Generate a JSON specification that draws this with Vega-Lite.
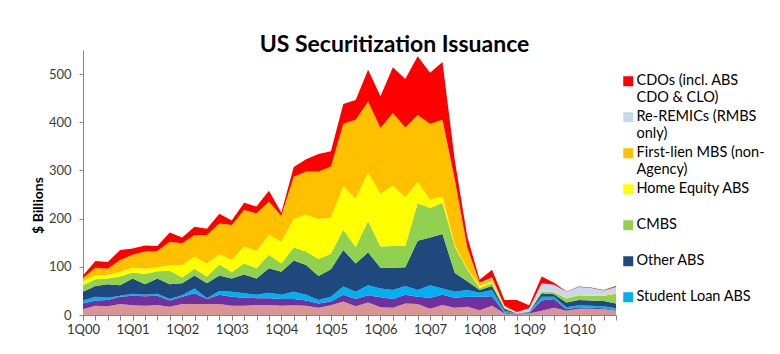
{
  "$schema": "https://vega.github.io/schema/vega-lite/v6.json",
  "width": 533,
  "height": 265,
  "autosize": {"type": "none"},
  "padding": {"left": 83, "top": 50, "right": 164, "bottom": 39},
  "background": "white",
  "title": {
    "text": "US Securitization Issuance",
    "font": "Lato",
    "fontSize": 23,
    "fontWeight": "bold",
    "color": "#000000",
    "anchor": "middle",
    "frame": "group",
    "baseline": "alphabetic",
    "offset": 0,
    "dx": 45,
    "dy": 25
  },
  "config": {"view": {"stroke": null}},
  "data": {
    "values": [
      {"q":"1Q00","s":"s1","v":12},{"q":"1Q00","s":"s2","v":12},{"q":"1Q00","s":"s3","v":6},{"q":"1Q00","s":"s4","v":18},{"q":"1Q00","s":"s5","v":14},{"q":"1Q00","s":"s6","v":8},{"q":"1Q00","s":"s7","v":7},{"q":"1Q00","s":"s8","v":0},{"q":"1Q00","s":"s9","v":5},
      {"q":"2Q00","s":"s1","v":19},{"q":"2Q00","s":"s2","v":11},{"q":"2Q00","s":"s3","v":8},{"q":"2Q00","s":"s4","v":22},{"q":"2Q00","s":"s5","v":14},{"q":"2Q00","s":"s6","v":8},{"q":"2Q00","s":"s7","v":16},{"q":"2Q00","s":"s8","v":0},{"q":"2Q00","s":"s9","v":14},
      {"q":"3Q00","s":"s1","v":18},{"q":"3Q00","s":"s2","v":13},{"q":"3Q00","s":"s3","v":5},{"q":"3Q00","s":"s4","v":28},{"q":"3Q00","s":"s5","v":12},{"q":"3Q00","s":"s6","v":7},{"q":"3Q00","s":"s7","v":13},{"q":"3Q00","s":"s8","v":0},{"q":"3Q00","s":"s9","v":14},
      {"q":"4Q00","s":"s1","v":23},{"q":"4Q00","s":"s2","v":15},{"q":"4Q00","s":"s3","v":2},{"q":"4Q00","s":"s4","v":22},{"q":"4Q00","s":"s5","v":18},{"q":"4Q00","s":"s6","v":10},{"q":"4Q00","s":"s7","v":24},{"q":"4Q00","s":"s8","v":0},{"q":"4Q00","s":"s9","v":21},
      {"q":"1Q01","s":"s1","v":20},{"q":"1Q01","s":"s2","v":20},{"q":"1Q01","s":"s3","v":4},{"q":"1Q01","s":"s4","v":32},{"q":"1Q01","s":"s5","v":12},{"q":"1Q01","s":"s6","v":10},{"q":"1Q01","s":"s7","v":27},{"q":"1Q01","s":"s8","v":0},{"q":"1Q01","s":"s9","v":13},
      {"q":"2Q01","s":"s1","v":19},{"q":"2Q01","s":"s2","v":20},{"q":"2Q01","s":"s3","v":3},{"q":"2Q01","s":"s4","v":22},{"q":"2Q01","s":"s5","v":21},{"q":"2Q01","s":"s6","v":11},{"q":"2Q01","s":"s7","v":36},{"q":"2Q01","s":"s8","v":0},{"q":"2Q01","s":"s9","v":12},
      {"q":"3Q01","s":"s1","v":21},{"q":"3Q01","s":"s2","v":19},{"q":"3Q01","s":"s3","v":4},{"q":"3Q01","s":"s4","v":32},{"q":"3Q01","s":"s5","v":15},{"q":"3Q01","s":"s6","v":8},{"q":"3Q01","s":"s7","v":34},{"q":"3Q01","s":"s8","v":0},{"q":"3Q01","s":"s9","v":10},
      {"q":"4Q01","s":"s1","v":17},{"q":"4Q01","s":"s2","v":13},{"q":"4Q01","s":"s3","v":3},{"q":"4Q01","s":"s4","v":31},{"q":"4Q01","s":"s5","v":28},{"q":"4Q01","s":"s6","v":11},{"q":"4Q01","s":"s7","v":49},{"q":"4Q01","s":"s8","v":0},{"q":"4Q01","s":"s9","v":19},
      {"q":"1Q02","s":"s1","v":23},{"q":"1Q02","s":"s2","v":15},{"q":"1Q02","s":"s3","v":3},{"q":"1Q02","s":"s4","v":25},{"q":"1Q02","s":"s5","v":12},{"q":"1Q02","s":"s6","v":26},{"q":"1Q02","s":"s7","v":45},{"q":"1Q02","s":"s8","v":0},{"q":"1Q02","s":"s9","v":12},
      {"q":"2Q02","s":"s1","v":23},{"q":"2Q02","s":"s2","v":22},{"q":"2Q02","s":"s3","v":10},{"q":"2Q02","s":"s4","v":27},{"q":"2Q02","s":"s5","v":14},{"q":"2Q02","s":"s6","v":25},{"q":"2Q02","s":"s7","v":45},{"q":"2Q02","s":"s8","v":0},{"q":"2Q02","s":"s9","v":17},
      {"q":"3Q02","s":"s1","v":23},{"q":"3Q02","s":"s2","v":10},{"q":"3Q02","s":"s3","v":2},{"q":"3Q02","s":"s4","v":31},{"q":"3Q02","s":"s5","v":14},{"q":"3Q02","s":"s6","v":27},{"q":"3Q02","s":"s7","v":59},{"q":"3Q02","s":"s8","v":0},{"q":"3Q02","s":"s9","v":13},
      {"q":"4Q02","s":"s1","v":23},{"q":"4Q02","s":"s2","v":19},{"q":"4Q02","s":"s3","v":8},{"q":"4Q02","s":"s4","v":32},{"q":"4Q02","s":"s5","v":23},{"q":"4Q02","s":"s6","v":21},{"q":"4Q02","s":"s7","v":64},{"q":"4Q02","s":"s8","v":0},{"q":"4Q02","s":"s9","v":20},
      {"q":"1Q03","s":"s1","v":19},{"q":"1Q03","s":"s2","v":19},{"q":"1Q03","s":"s3","v":10},{"q":"1Q03","s":"s4","v":28},{"q":"1Q03","s":"s5","v":13},{"q":"1Q03","s":"s6","v":25},{"q":"1Q03","s":"s7","v":73},{"q":"1Q03","s":"s8","v":0},{"q":"1Q03","s":"s9","v":9},
      {"q":"2Q03","s":"s1","v":19},{"q":"2Q03","s":"s2","v":17},{"q":"2Q03","s":"s3","v":9},{"q":"2Q03","s":"s4","v":39},{"q":"2Q03","s":"s5","v":23},{"q":"2Q03","s":"s6","v":35},{"q":"2Q03","s":"s7","v":76},{"q":"2Q03","s":"s8","v":0},{"q":"2Q03","s":"s9","v":15},
      {"q":"3Q03","s":"s1","v":21},{"q":"3Q03","s":"s2","v":14},{"q":"3Q03","s":"s3","v":7},{"q":"3Q03","s":"s4","v":34},{"q":"3Q03","s":"s5","v":21},{"q":"3Q03","s":"s6","v":36},{"q":"3Q03","s":"s7","v":78},{"q":"3Q03","s":"s8","v":0},{"q":"3Q03","s":"s9","v":14},
      {"q":"4Q03","s":"s1","v":21},{"q":"4Q03","s":"s2","v":14},{"q":"4Q03","s":"s3","v":11},{"q":"4Q03","s":"s4","v":51},{"q":"4Q03","s":"s5","v":28},{"q":"4Q03","s":"s6","v":41},{"q":"4Q03","s":"s7","v":69},{"q":"4Q03","s":"s8","v":0},{"q":"4Q03","s":"s9","v":23},
      {"q":"1Q04","s":"s1","v":19},{"q":"1Q04","s":"s2","v":14},{"q":"1Q04","s":"s3","v":9},{"q":"1Q04","s":"s4","v":48},{"q":"1Q04","s":"s5","v":17},{"q":"1Q04","s":"s6","v":45},{"q":"1Q04","s":"s7","v":54},{"q":"1Q04","s":"s8","v":0},{"q":"1Q04","s":"s9","v":6},
      {"q":"2Q04","s":"s1","v":20},{"q":"2Q04","s":"s2","v":13},{"q":"2Q04","s":"s3","v":15},{"q":"2Q04","s":"s4","v":65},{"q":"2Q04","s":"s5","v":27},{"q":"2Q04","s":"s6","v":59},{"q":"2Q04","s":"s7","v":88},{"q":"2Q04","s":"s8","v":0},{"q":"2Q04","s":"s9","v":20},
      {"q":"3Q04","s":"s1","v":19},{"q":"3Q04","s":"s2","v":11},{"q":"3Q04","s":"s3","v":12},{"q":"3Q04","s":"s4","v":62},{"q":"3Q04","s":"s5","v":28},{"q":"3Q04","s":"s6","v":76},{"q":"3Q04","s":"s7","v":90},{"q":"3Q04","s":"s8","v":0},{"q":"3Q04","s":"s9","v":25},
      {"q":"4Q04","s":"s1","v":15},{"q":"4Q04","s":"s2","v":9},{"q":"4Q04","s":"s3","v":7},{"q":"4Q04","s":"s4","v":50},{"q":"4Q04","s":"s5","v":35},{"q":"4Q04","s":"s6","v":83},{"q":"4Q04","s":"s7","v":99},{"q":"4Q04","s":"s8","v":0},{"q":"4Q04","s":"s9","v":36},
      {"q":"1Q05","s":"s1","v":20},{"q":"1Q05","s":"s2","v":8},{"q":"1Q05","s":"s3","v":10},{"q":"1Q05","s":"s4","v":57},{"q":"1Q05","s":"s5","v":32},{"q":"1Q05","s":"s6","v":75},{"q":"1Q05","s":"s7","v":106},{"q":"1Q05","s":"s8","v":0},{"q":"1Q05","s":"s9","v":32},
      {"q":"2Q05","s":"s1","v":28},{"q":"2Q05","s":"s2","v":14},{"q":"2Q05","s":"s3","v":17},{"q":"2Q05","s":"s4","v":76},{"q":"2Q05","s":"s5","v":42},{"q":"2Q05","s":"s6","v":90},{"q":"2Q05","s":"s7","v":130},{"q":"2Q05","s":"s8","v":0},{"q":"2Q05","s":"s9","v":41},
      {"q":"3Q05","s":"s1","v":18},{"q":"3Q05","s":"s2","v":15},{"q":"3Q05","s":"s3","v":15},{"q":"3Q05","s":"s4","v":59},{"q":"3Q05","s":"s5","v":34},{"q":"3Q05","s":"s6","v":101},{"q":"3Q05","s":"s7","v":163},{"q":"3Q05","s":"s8","v":0},{"q":"3Q05","s":"s9","v":41},
      {"q":"4Q05","s":"s1","v":26},{"q":"4Q05","s":"s2","v":15},{"q":"4Q05","s":"s3","v":21},{"q":"4Q05","s":"s4","v":68},{"q":"4Q05","s":"s5","v":65},{"q":"4Q05","s":"s6","v":101},{"q":"4Q05","s":"s7","v":147},{"q":"4Q05","s":"s8","v":0},{"q":"4Q05","s":"s9","v":66},
      {"q":"1Q06","s":"s1","v":16},{"q":"1Q06","s":"s2","v":21},{"q":"1Q06","s":"s3","v":18},{"q":"1Q06","s":"s4","v":43},{"q":"1Q06","s":"s5","v":44},{"q":"1Q06","s":"s6","v":109},{"q":"1Q06","s":"s7","v":137},{"q":"1Q06","s":"s8","v":0},{"q":"1Q06","s":"s9","v":66},
      {"q":"2Q06","s":"s1","v":15},{"q":"2Q06","s":"s2","v":18},{"q":"2Q06","s":"s3","v":19},{"q":"2Q06","s":"s4","v":46},{"q":"2Q06","s":"s5","v":45},{"q":"2Q06","s":"s6","v":126},{"q":"2Q06","s":"s7","v":150},{"q":"2Q06","s":"s8","v":0},{"q":"2Q06","s":"s9","v":95},
      {"q":"3Q06","s":"s1","v":24},{"q":"3Q06","s":"s2","v":18},{"q":"3Q06","s":"s3","v":18},{"q":"3Q06","s":"s4","v":39},{"q":"3Q06","s":"s5","v":44},{"q":"3Q06","s":"s6","v":101},{"q":"3Q06","s":"s7","v":145},{"q":"3Q06","s":"s8","v":0},{"q":"3Q06","s":"s9","v":101},
      {"q":"4Q06","s":"s1","v":23},{"q":"4Q06","s":"s2","v":15},{"q":"4Q06","s":"s3","v":14},{"q":"4Q06","s":"s4","v":102},{"q":"4Q06","s":"s5","v":78},{"q":"4Q06","s":"s6","v":44},{"q":"4Q06","s":"s7","v":139},{"q":"4Q06","s":"s8","v":0},{"q":"4Q06","s":"s9","v":122},
      {"q":"1Q07","s":"s1","v":13},{"q":"1Q07","s":"s2","v":23},{"q":"1Q07","s":"s3","v":26},{"q":"1Q07","s":"s4","v":99},{"q":"1Q07","s":"s5","v":61},{"q":"1Q07","s":"s6","v":17},{"q":"1Q07","s":"s7","v":158},{"q":"1Q07","s":"s8","v":0},{"q":"1Q07","s":"s9","v":106},
      {"q":"2Q07","s":"s1","v":21},{"q":"2Q07","s":"s2","v":21},{"q":"2Q07","s":"s3","v":13},{"q":"2Q07","s":"s4","v":113},{"q":"2Q07","s":"s5","v":65},{"q":"2Q07","s":"s6","v":13},{"q":"2Q07","s":"s7","v":159},{"q":"2Q07","s":"s8","v":0},{"q":"2Q07","s":"s9","v":120},
      {"q":"3Q07","s":"s1","v":15},{"q":"3Q07","s":"s2","v":21},{"q":"3Q07","s":"s3","v":12},{"q":"3Q07","s":"s4","v":39},{"q":"3Q07","s":"s5","v":55},{"q":"3Q07","s":"s6","v":3},{"q":"3Q07","s":"s7","v":135},{"q":"3Q07","s":"s8","v":0},{"q":"3Q07","s":"s9","v":40},
      {"q":"4Q07","s":"s1","v":17},{"q":"4Q07","s":"s2","v":21},{"q":"4Q07","s":"s3","v":14},{"q":"4Q07","s":"s4","v":18},{"q":"4Q07","s":"s5","v":25},{"q":"4Q07","s":"s6","v":2},{"q":"4Q07","s":"s7","v":43},{"q":"4Q07","s":"s8","v":0},{"q":"4Q07","s":"s9","v":23},
      {"q":"1Q08","s":"s1","v":10},{"q":"1Q08","s":"s2","v":28},{"q":"1Q08","s":"s3","v":8},{"q":"1Q08","s":"s4","v":6},{"q":"1Q08","s":"s5","v":4},{"q":"1Q08","s":"s6","v":4},{"q":"1Q08","s":"s7","v":6},{"q":"1Q08","s":"s8","v":1},{"q":"1Q08","s":"s9","v":6},
      {"q":"2Q08","s":"s1","v":19},{"q":"2Q08","s":"s2","v":20},{"q":"2Q08","s":"s3","v":13},{"q":"2Q08","s":"s4","v":8},{"q":"2Q08","s":"s5","v":6},{"q":"2Q08","s":"s6","v":4},{"q":"2Q08","s":"s7","v":6},{"q":"2Q08","s":"s8","v":2},{"q":"2Q08","s":"s9","v":16},
      {"q":"3Q08","s":"s1","v":3},{"q":"3Q08","s":"s2","v":2},{"q":"3Q08","s":"s3","v":4},{"q":"3Q08","s":"s4","v":4},{"q":"3Q08","s":"s5","v":2},{"q":"3Q08","s":"s6","v":1},{"q":"3Q08","s":"s7","v":1},{"q":"3Q08","s":"s8","v":2},{"q":"3Q08","s":"s9","v":12},
      {"q":"4Q08","s":"s1","v":1},{"q":"4Q08","s":"s2","v":1},{"q":"4Q08","s":"s3","v":1},{"q":"4Q08","s":"s4","v":0},{"q":"4Q08","s":"s5","v":0},{"q":"4Q08","s":"s6","v":0},{"q":"4Q08","s":"s7","v":0},{"q":"4Q08","s":"s8","v":3},{"q":"4Q08","s":"s9","v":25},
      {"q":"1Q09","s":"s1","v":3},{"q":"1Q09","s":"s2","v":1},{"q":"1Q09","s":"s3","v":2},{"q":"1Q09","s":"s4","v":1},{"q":"1Q09","s":"s5","v":1},{"q":"1Q09","s":"s6","v":0},{"q":"1Q09","s":"s7","v":0},{"q":"1Q09","s":"s8","v":6},{"q":"1Q09","s":"s9","v":6},
      {"q":"2Q09","s":"s1","v":9},{"q":"2Q09","s":"s2","v":21},{"q":"2Q09","s":"s3","v":8},{"q":"2Q09","s":"s4","v":7},{"q":"2Q09","s":"s5","v":4},{"q":"2Q09","s":"s6","v":1},{"q":"2Q09","s":"s7","v":1},{"q":"2Q09","s":"s8","v":15},{"q":"2Q09","s":"s9","v":14},
      {"q":"3Q09","s":"s1","v":15},{"q":"3Q09","s":"s2","v":18},{"q":"3Q09","s":"s3","v":5},{"q":"3Q09","s":"s4","v":5},{"q":"3Q09","s":"s5","v":4},{"q":"3Q09","s":"s6","v":1},{"q":"3Q09","s":"s7","v":1},{"q":"3Q09","s":"s8","v":14},{"q":"3Q09","s":"s9","v":4},
      {"q":"4Q09","s":"s1","v":9},{"q":"4Q09","s":"s2","v":3},{"q":"4Q09","s":"s3","v":4},{"q":"4Q09","s":"s4","v":10},{"q":"4Q09","s":"s5","v":8},{"q":"4Q09","s":"s6","v":1},{"q":"4Q09","s":"s7","v":1},{"q":"4Q09","s":"s8","v":12},{"q":"4Q09","s":"s9","v":1},
      {"q":"1Q10","s":"s1","v":13},{"q":"1Q10","s":"s2","v":3},{"q":"1Q10","s":"s3","v":4},{"q":"1Q10","s":"s4","v":11},{"q":"1Q10","s":"s5","v":10},{"q":"1Q10","s":"s6","v":1},{"q":"1Q10","s":"s7","v":1},{"q":"1Q10","s":"s8","v":15},{"q":"1Q10","s":"s9","v":1},
      {"q":"2Q10","s":"s1","v":13},{"q":"2Q10","s":"s2","v":2},{"q":"2Q10","s":"s3","v":4},{"q":"2Q10","s":"s4","v":11},{"q":"2Q10","s":"s5","v":10},{"q":"2Q10","s":"s6","v":1},{"q":"2Q10","s":"s7","v":1},{"q":"2Q10","s":"s8","v":14},{"q":"2Q10","s":"s9","v":1},
      {"q":"3Q10","s":"s1","v":12},{"q":"3Q10","s":"s2","v":2},{"q":"3Q10","s":"s3","v":4},{"q":"3Q10","s":"s4","v":11},{"q":"3Q10","s":"s5","v":11},{"q":"3Q10","s":"s6","v":1},{"q":"3Q10","s":"s7","v":1},{"q":"3Q10","s":"s8","v":9},{"q":"3Q10","s":"s9","v":1},
      {"q":"4Q10","s":"s1","v":9},{"q":"4Q10","s":"s2","v":1},{"q":"4Q10","s":"s3","v":4},{"q":"4Q10","s":"s4","v":10},{"q":"4Q10","s":"s5","v":20},{"q":"4Q10","s":"s6","v":1},{"q":"4Q10","s":"s7","v":1},{"q":"4Q10","s":"s8","v":12},{"q":"4Q10","s":"s9","v":2}
    ]
  },
  "mark": {"type": "area", "interpolate": "linear", "line": false, "strokeWidth": 0},
  "encoding": {
    "x": {
      "field": "q",
      "type": "ordinal",
      "scale": {
        "type": "point",
        "padding": 0,
        "domain": ["1Q00","2Q00","3Q00","4Q00","1Q01","2Q01","3Q01","4Q01","1Q02","2Q02","3Q02","4Q02","1Q03","2Q03","3Q03","4Q03","1Q04","2Q04","3Q04","4Q04","1Q05","2Q05","3Q05","4Q05","1Q06","2Q06","3Q06","4Q06","1Q07","2Q07","3Q07","4Q07","1Q08","2Q08","3Q08","4Q08","1Q09","2Q09","3Q09","4Q09","1Q10","2Q10","3Q10","4Q10"]
      },
      "axis": {
        "title": null,
        "labelExpr": "substring(datum.value, 0, 2) == '1Q' ? datum.value : ''",
        "labelAngle": 0,
        "labelOverlap": false,
        "labelFont": "Lato",
        "labelFontSize": 13,
        "labelColor": "#333333",
        "labelPadding": 3,
        "tickSize": 5,
        "tickColor": "#868686",
        "domainColor": "#868686",
        "grid": false
      }
    },
    "y": {
      "field": "v",
      "type": "quantitative",
      "stack": "zero",
      "scale": {"domain": [0, 550], "nice": false},
      "axis": {
        "values": [0, 100, 200, 300, 400, 500],
        "title": "$ Billions",
        "titleFont": "Lato",
        "titleFontSize": 14,
        "titleFontWeight": "bold",
        "titleColor": "#000000",
        "titleX": -38,
        "titleY": 155,
        "labelFont": "Lato",
        "labelFontSize": 13,
        "labelColor": "#404040",
        "labelPadding": 8,
        "tickSize": 4,
        "tickColor": "#868686",
        "domainColor": "#868686",
        "grid": false
      }
    },
    "order": {"field": "s", "sort": "ascending"},
    "color": {
      "field": "s",
      "type": "nominal",
      "scale": {
        "domain": ["s9","s8","s7","s6","s5","s4","s3","s2","s1"],
        "range": ["#FF0000","#C6D9F1","#FFC000","#FFFF00","#92D050","#1F497D","#00B0F0","#7030A0","#D99594"]
      },
      "legend": {
        "title": null,
        "orient": "none",
        "legendX": 538,
        "legendY": 24,
        "values": ["s9","s8","s7","s6","s5","s4","s3"],
        "symbolType": "square",
        "symbolSize": 100,
        "symbolStrokeWidth": 0,
        "labelFont": "Lato",
        "labelFontSize": 14.5,
        "labelColor": "#000000",
        "labelLimit": 200,
        "labelOffset": 1,
        "rowPadding": 4,
        "labelExpr": "datum.value == 's9' ? ['CDOs (incl. ABS', 'CDO & CLO)'] : datum.value == 's8' ? ['Re-REMICs (RMBS', 'only)'] : datum.value == 's7' ? ['First-lien MBS (non-', 'Agency)'] : datum.value == 's6' ? ['Home Equity ABS', ' '] : datum.value == 's5' ? ['CMBS', ' '] : datum.value == 's4' ? ['Other ABS', ' '] : ['Student Loan ABS', ' ']"
      }
    }
  }
}
